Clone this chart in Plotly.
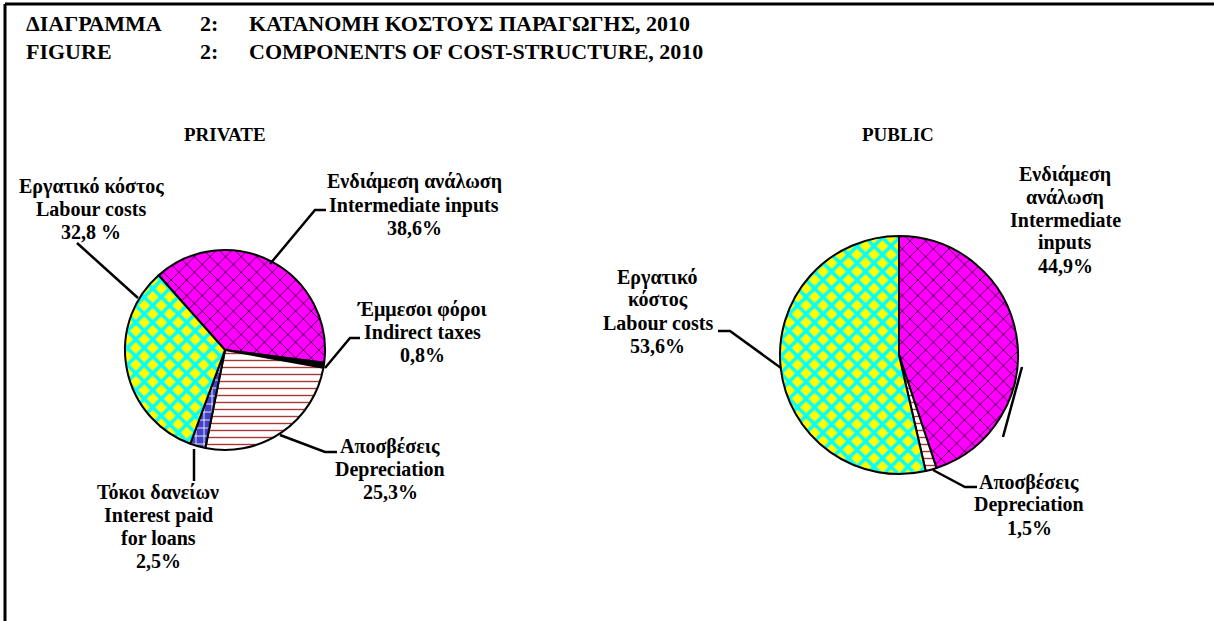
import plotly.graph_objects as go

W, H = 1214, 621

# ---------------- data ----------------
private_labels = ["Ενδιάμεση ανάλωση", "Έμμεσοι φόροι", "Αποσβέσεις", "Τόκοι δανείων", "Εργατικό κόστος"]
private_values = [38.6, 0.8, 25.3, 2.5, 32.8]
public_labels = ["Ενδιάμεση ανάλωση", "Αποσβέσεις", "Εργατικό κόστος"]
public_values = [44.9, 1.5, 53.6]

title_num = "2:"
title_gr = "ΚΑΤΑΝΟΜΗ ΚΟΣΤΟΥΣ ΠΑΡΑΓΩΓΗΣ, 2010"
title_en = "COMPONENTS OF COST-STRUCTURE, 2010"

# ---------------- styles ----------------
FONT = "Liberation Serif, Times New Roman, serif"
styles = {
    "Ενδιάμεση ανάλωση": dict(bg="#FF00FF", fg="#000000", shape="x", size=11, sol=0.12),
    "Έμμεσοι φόροι": dict(bg="#000000", fg="#000000", shape="", size=8, sol=0.2),
    "Αποσβέσεις": dict(bg="#FFFFFF", fg="#A83838", shape="-", size=7, sol=0.2),
    "Τόκοι δανείων": dict(bg="#4242C8", fg="#FFFFFF", shape="+", size=8, sol=0.2),
    "Εργατικό κόστος": dict(bg="#FFFF00", fg="#00FFFF", shape="x", size=12, sol=0.5),
}


def px(x):
    return x / W


def py(y):
    return 1 - y / H


def marker_for(labels):
    return dict(
        colors=[styles[l]["bg"] for l in labels],
        line=dict(color="black", width=2),
        pattern=dict(
            shape=[styles[l]["shape"] for l in labels],
            fgcolor=[styles[l]["fg"] for l in labels],
            bgcolor=[styles[l]["bg"] for l in labels],
            size=[styles[l]["size"] for l in labels],
            solidity=[styles[l]["sol"] for l in labels],
            fillmode="replace",
        ),
    )


fig = go.Figure()

# private pie: centre (225,350), r=100
fig.add_trace(go.Pie(
    labels=private_labels, values=private_values, sort=False, direction="clockwise",
    rotation=-41.6, textinfo="none", showlegend=False, hoverinfo="label+percent",
    marker=marker_for(private_labels),
    domain=dict(x=[px(125), px(325)], y=[py(450), py(250)]),
))

# public pie: centre (899,355), r=119
fig.add_trace(go.Pie(
    labels=public_labels, values=public_values, sort=False, direction="clockwise",
    rotation=0, textinfo="none", showlegend=False, hoverinfo="label+percent",
    marker=marker_for(public_labels),
    domain=dict(x=[px(780), px(1018)], y=[py(474), py(236)]),
))

annotations = []


def txt(x, y, text, size=20, xanchor="center"):
    annotations.append(dict(
        x=px(x), y=py(y), xref="paper", yref="paper", text="<b>" + text + "</b>",
        showarrow=False, xanchor=xanchor, yanchor="middle", align="center",
        font=dict(family=FONT, size=size, color="black"),
    ))


def block(x, y0, lines, step=23, size=20):
    for i, line in enumerate(lines):
        txt(x, y0 + i * step, line, size)


# titles
txt(24, 24, "ΔΙΑΓΡΑΜΜΑ", 22, "left")
txt(198, 24, title_num, 22, "left")
txt(247, 24, title_gr, 22, "left")
txt(24, 51, "FIGURE", 22, "left")
txt(198, 51, title_num, 22, "left")
txt(247, 51, title_en, 22, "left")
txt(225, 135, "PRIVATE", 19)
txt(898, 135, "PUBLIC", 19)

# private labels
block(91, 186, ["Εργατικό κόστος", "Labour costs", "32,8 %"])
block(414, 182, ["Ενδιάμεση ανάλωση", "Intermediate inputs", "38,6%"])
block(422, 309, ["Έμμεσοι φόροι", "Indirect taxes", "0,8%"])
block(390, 446, ["Αποσβέσεις", "Depreciation", "25,3%"])
block(158, 492, ["Τόκοι δανείων", "Interest paid", "for loans", "2,5%"])

# public labels
block(658, 277, ["Εργατικό", "κόστος", "Labour costs", "53,6%"])
block(1065, 174, ["Ενδιάμεση", "ανάλωση", "Intermediate", "inputs", "44,9%"])
block(1029, 482, ["Αποσβέσεις", "Depreciation", "1,5%"])

shapes = []


def path(points, width=2.5):
    d = "M " + " L ".join(f"{px(x)},{py(y)}" for x, y in points)
    shapes.append(dict(type="path", path=d, xref="paper", yref="paper",
                       line=dict(color="black", width=width)))


# leader lines
path([(77, 243), (138, 298)])
path([(270, 264), (315, 210), (326, 210)])
path([(325, 368), (350, 338), (360, 338)])
path([(280, 435), (325, 452), (337, 452)])
path([(194, 449), (194, 481)])
path([(718, 331), (730, 331), (781, 368)])
path([(1022, 367), (1003, 437)])
path([(933, 470), (965, 487), (977, 487)])

# frame (top and left edges are visible in the reference)
for (x0, y0, x1, y1) in [(5, 4, W, 4), (5, 4, 5, H)]:
    shapes.append(dict(type="line", xref="paper", yref="paper", layer="above",
                       x0=px(x0), y0=py(y0), x1=px(x1), y1=py(y1),
                       line=dict(color="black", width=3)))

fig.update_layout(
    width=W, height=H, margin=dict(l=0, r=0, t=0, b=0),
    paper_bgcolor="white", plot_bgcolor="white",
    annotations=annotations, shapes=shapes, showlegend=False,
)

fig.write_html("out.html", config={"displayModeBar": False},
               post_script="document.body.style.margin='0';document.body.style.overflow='hidden';")
